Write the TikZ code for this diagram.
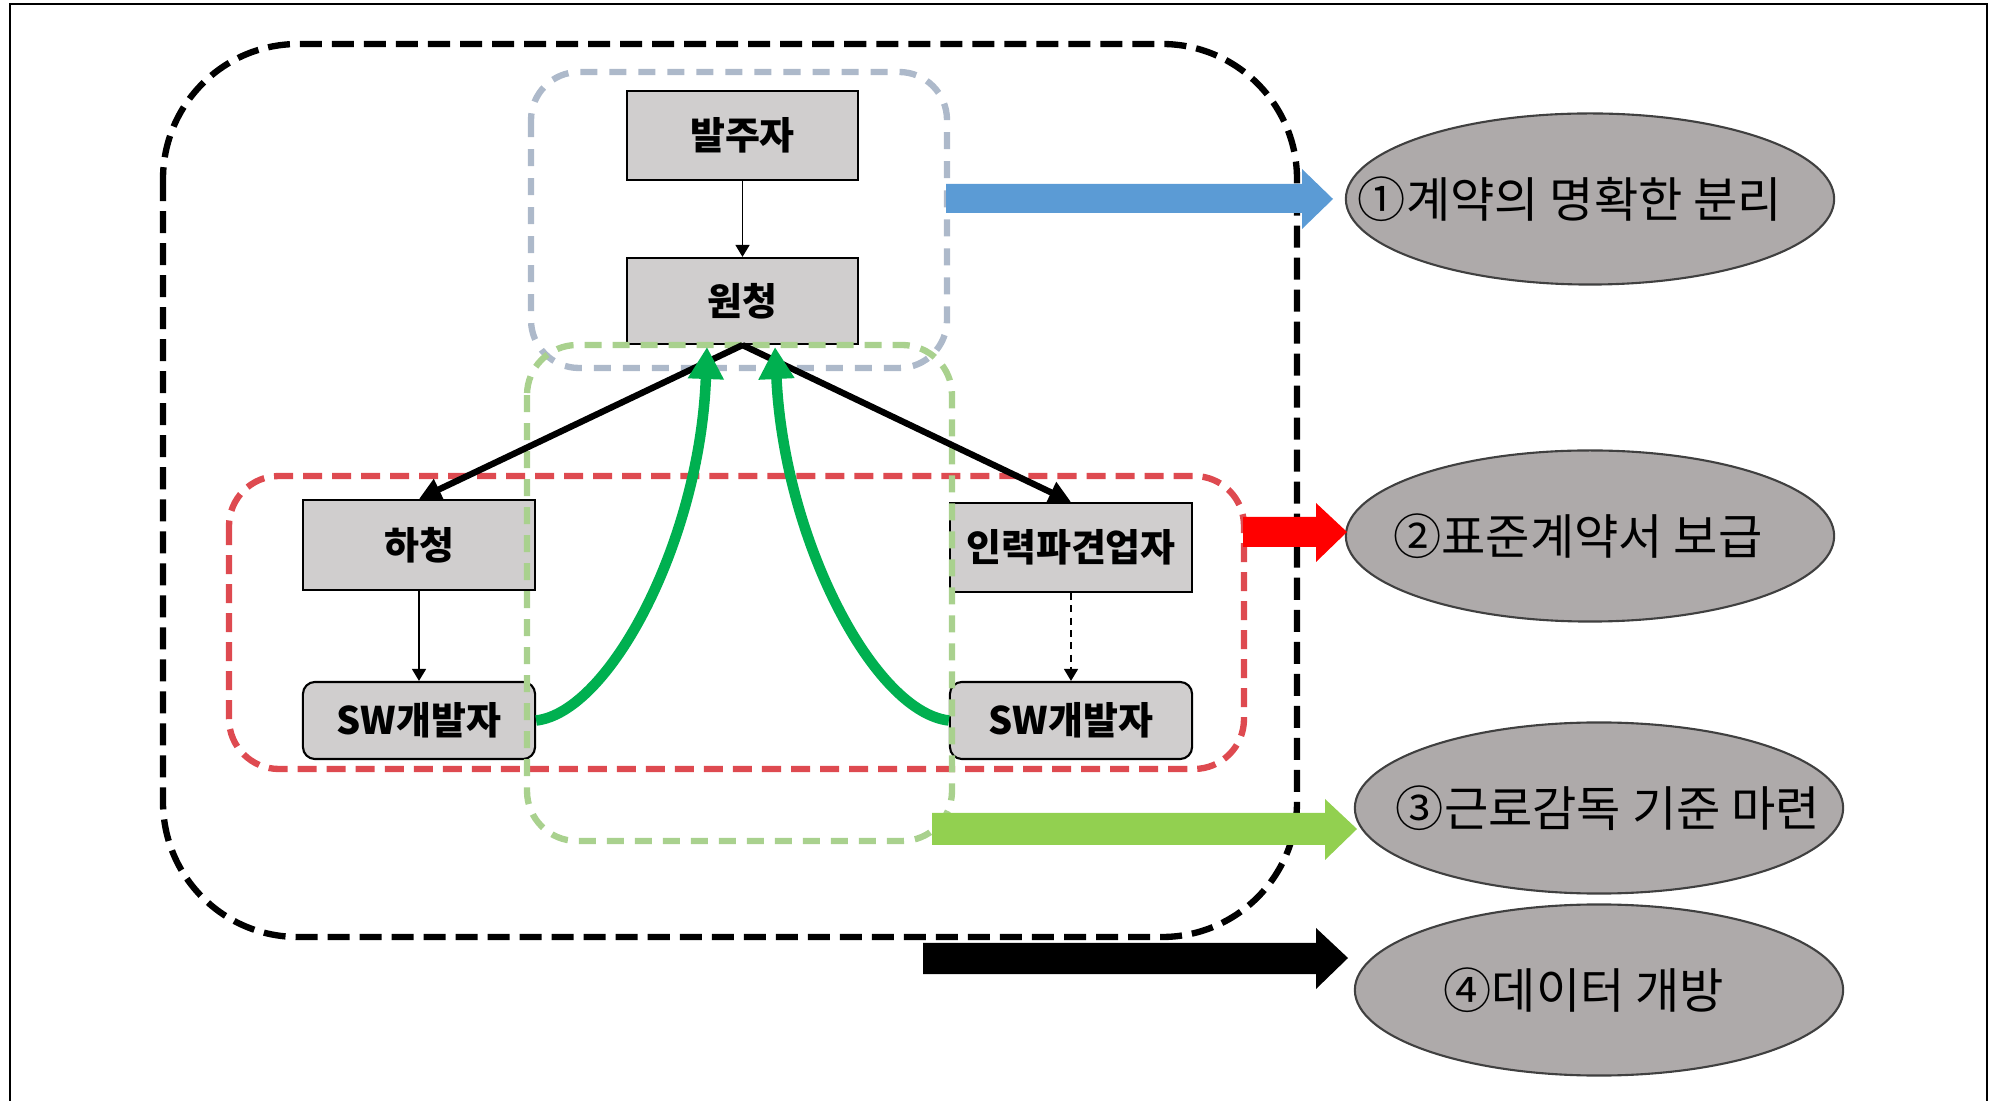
\documentclass[tikz,border=0pt]{standalone}
\usepackage{fontspec}
\newfontfamily\kr{Noto Sans CJK KR}
\usetikzlibrary{arrows.meta,shapes.geometric}

\definecolor{boxgray}{HTML}{D0CECE}
\definecolor{ellgray}{HTML}{AEAAAA}
\definecolor{ellline}{HTML}{404040}
\definecolor{bluegray}{HTML}{ADB9CA}
\definecolor{reddash}{HTML}{DE4A50}
\definecolor{greendash}{HTML}{A9D18E}
\definecolor{curvegreen}{HTML}{00B050}
\definecolor{blockblue}{HTML}{5B9BD5}
\definecolor{blockred}{HTML}{FF0000}
\definecolor{blockgreen}{HTML}{92D050}

\tikzset{
  box/.style={draw=black, line width=0.6pt, fill=boxgray, inner sep=0pt,
    font=\kr\bfseries\fontsize{10.8pt}{12pt}\selectfont},
  roundbox/.style={box, rounded corners=0.12cm},
  goal/.style={ellipse, draw=ellline, fill=ellgray, line width=0.6pt,
    minimum width=4.88cm, minimum height=1.71cm, inner sep=0pt},
  goaltext/.style={inner sep=0pt, font=\kr\fontsize{13.7pt}{15pt}\selectfont},
  region/.style={line width=1.8pt},
  link/.style={line width=1.8pt, -{Triangle[length=0.22cm,width=0.22cm]}},
  thinlink/.style={line width=0.45pt, -{Triangle[length=0.12cm,width=0.14cm]}},
  feedback/.style={curvegreen, line width=3pt, -{Triangle[length=0.32cm,width=0.34cm]}},
}

\begin{document}
\begin{tikzpicture}[x=0.01cm, y=-0.01cm]
\useasboundingbox (0,0) rectangle (1991,1101);

% page frame (open at the bottom)
\draw[line width=0.6pt] (10,1101) -- (10,4) -- (1987,4) -- (1987,1101);

% organisation boxes
\node[box, minimum width=2.31cm, minimum height=0.89cm] (client) at (742.5,135.5) {발주자};
\node[box, minimum width=2.31cm, minimum height=0.86cm] (prime) at (742.5,301) {원청};
\node[box, minimum width=2.32cm, minimum height=0.90cm] (sub) at (419,545) {하청};
\node[box, minimum width=2.42cm, minimum height=0.89cm] (agency) at (1071,547.5) {인력파견업자};
\node[roundbox, minimum width=2.32cm, minimum height=0.77cm] (devL) at (419,720.5) {SW개발자};
\node[roundbox, minimum width=2.42cm, minimum height=0.77cm] (devR) at (1071,720.5) {SW개발자};

% grouping regions
\draw[region, black, dash pattern=on 0.22cm off 0.1cm, rounded corners=1.35cm]
  (163,44) rectangle (1297,937);
\draw[region, bluegray, dash pattern=on 0.17cm off 0.12cm, rounded corners=0.48cm]
  (531,72) rectangle (947,368);
\draw[region, reddash, dash pattern=on 0.19cm off 0.1cm, rounded corners=0.5cm]
  (229,476) rectangle (1244,769);
\draw[region, greendash, dash pattern=on 0.17cm off 0.11cm, rounded corners=0.5cm]
  (527,345) rectangle (952,841);

% contract relations
\draw[thinlink] (client) -- (prime);
\draw[link] (prime.south) -- (sub.north);
\draw[link] (prime.south) -- (agency.north);
\draw[thinlink] (sub) -- (devL);
\draw[thinlink, dash pattern=on 2pt off 1.5pt] (agency) -- (devR);

% developers reporting back to the prime contractor
\coordinate (tipL) at (707,347);
\coordinate (tipR) at (775,347);
\draw[feedback] (devL.east) .. controls (610,712) and (700,540) .. (tipL);
\draw[feedback] (devR.west) .. controls (874,712) and (784,540) .. (tipR);

% policy goals
\node[goal] (g1) at (1590,199) {};
\node[goal] (g2) at (1590,536) {};
\node[goal] (g3) at (1599,808) {};
\node[goal] (g4) at (1599,990) {};
\node[goaltext] (t1) at (1570,199) {①계약의 명확한 분리};
\node[goaltext] (t2) at (1578,536) {②표준계약서 보급};
\node[goaltext] (t3) at (1608,808) {③근로감독 기준 마련};
\node[goaltext] (t4) at (1584,990) {④데이터 개방};

% block arrows towards the goals
\fill[blockblue] (946,184) -- (1302,184) -- (1302,169) -- (1333,199)
  -- (1302,229) -- (1302,213) -- (946,213) -- cycle;
\fill[blockred] (1243,517) -- (1316,517) -- (1316,503) -- (1347,532)
  -- (1316,562) -- (1316,547) -- (1243,547) -- cycle;
\fill[blockgreen] (932,813) -- (1325,813) -- (1325,799) -- (1357,829)
  -- (1325,860) -- (1325,845) -- (932,845) -- cycle;
\fill[black] (923,943) -- (1316,943) -- (1316,928) -- (1348,958)
  -- (1316,989) -- (1316,974) -- (923,974) -- cycle;
\end{tikzpicture}
\end{document}
